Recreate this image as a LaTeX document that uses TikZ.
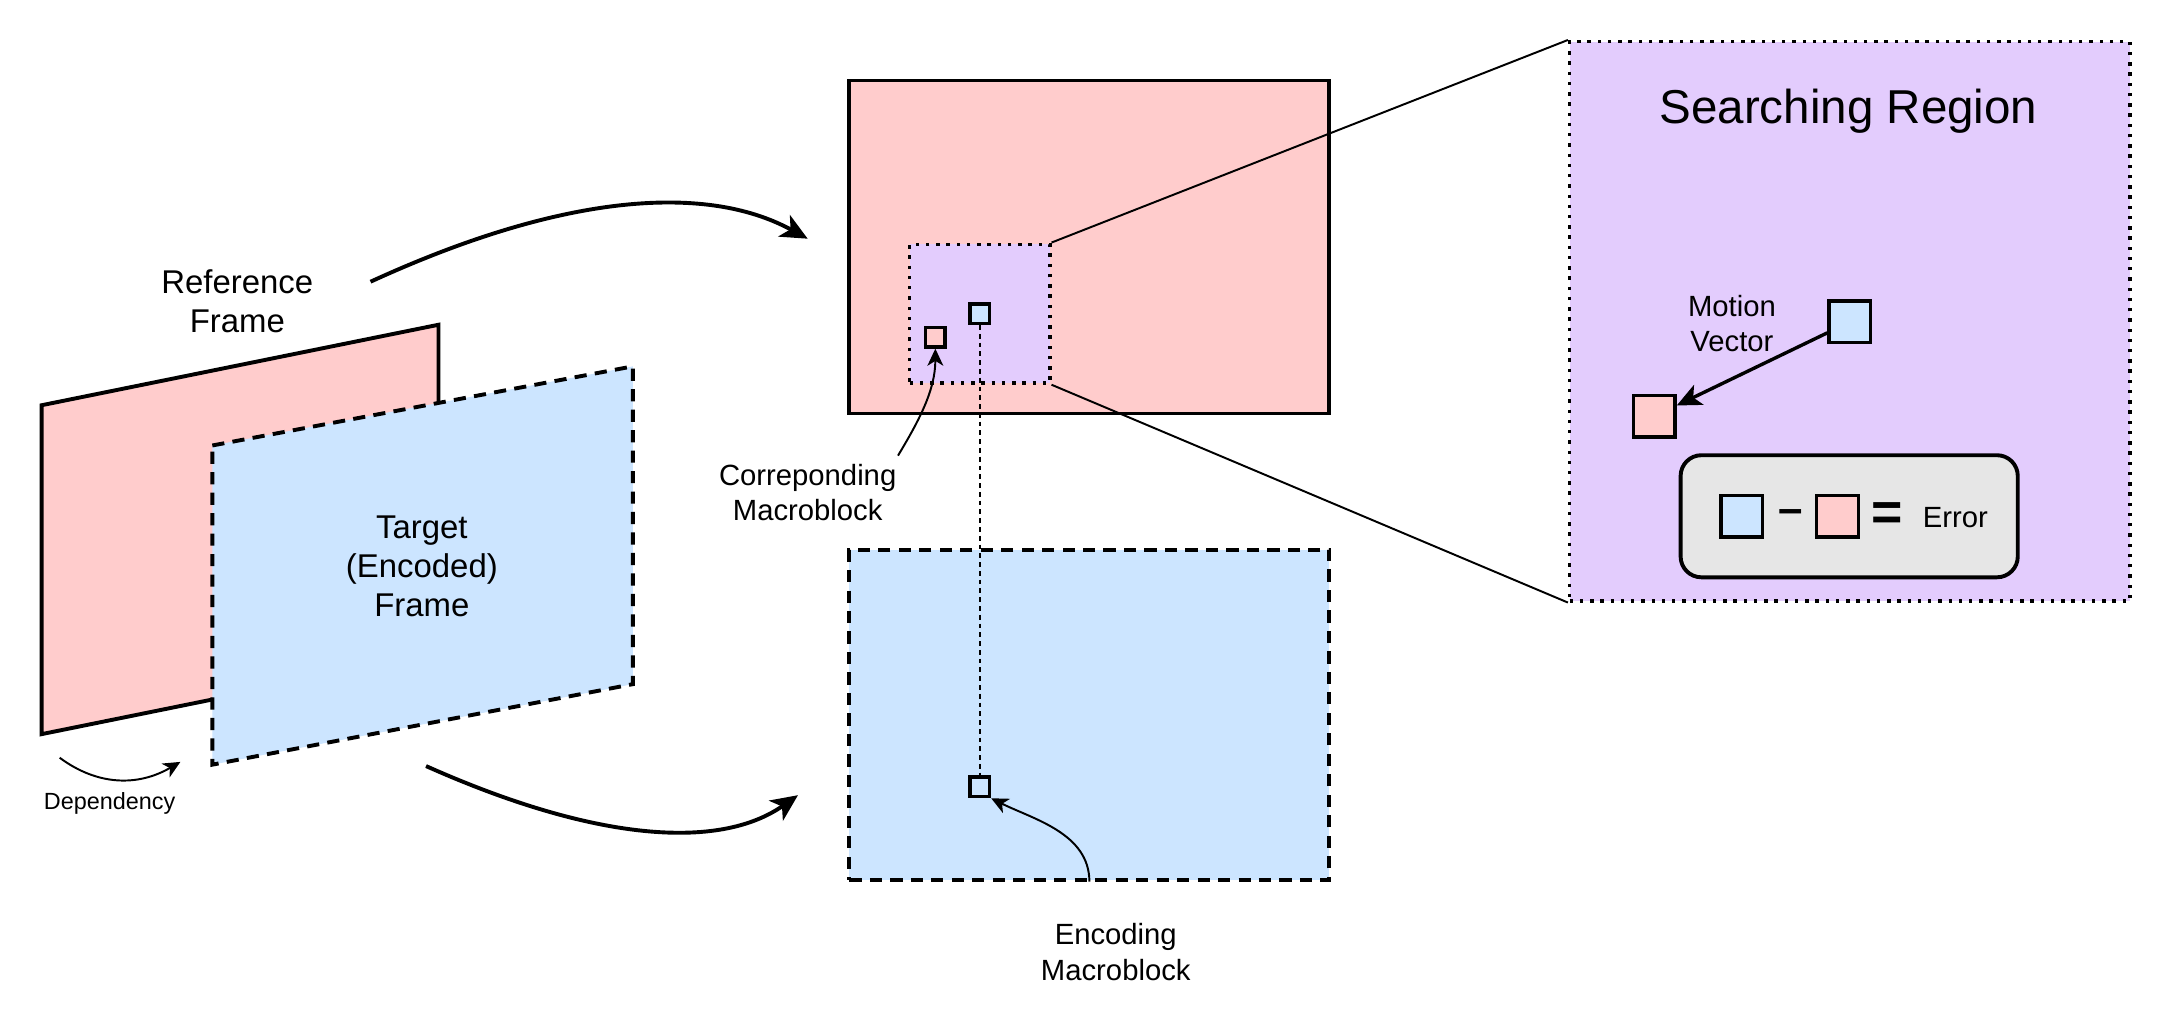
\documentclass[tikz,border=0pt]{standalone}
\usepackage{fontspec}
\setmainfont{Liberation Sans}
\usetikzlibrary{arrows.meta,positioning}

\definecolor{refred}{HTML}{FFCCCC}
\definecolor{tgtblue}{HTML}{CCE5FF}
\definecolor{srchpurple}{HTML}{E3CCFD}
\definecolor{boxgrey}{HTML}{E6E6E6}

\tikzset{
  frameline/.style={line width=1.6pt, line join=miter},
  dashframe/.style={line width=1.6pt, dash pattern=on 5pt off 3.4pt},
  dotframe/.style={line width=1.4pt, dash pattern=on 1.4pt off 2.8pt},
  block/.style={draw, line width=1.4pt, minimum size=0.28cm, inner sep=0pt},
  bigblock/.style={draw, line width=1.4pt, minimum size=0.6cm, inner sep=0pt},
  txt/.style={font=\fontsize{12}{14.5}\selectfont, align=center},
  bigtxt/.style={font=\fontsize{13.5}{16}\selectfont, align=center},
  bigarrow/.style={line width=1.6pt, -{Stealth[length=11pt,width=10pt,inset=3pt]}},
  smallarrow/.style={line width=0.8pt, -{Stealth[length=7pt,width=6.5pt,inset=2pt]}},
}

\begin{document}
\begin{tikzpicture}[x=0.02cm, y=-0.02cm]
  \useasboundingbox (0,0) rectangle (1568,738);

  % the two frames, side view
  \draw[frameline, fill=refred] (30,292) -- (316,234) -- (316,471) -- (30,529) -- cycle;
  \draw[dashframe, fill=tgtblue] (153,321) -- (456,264) -- (456,493) -- (153,551) -- cycle;
  \node[bigtxt] (reftxt) at (171,217) {Reference\\Frame};
  \node[bigtxt] (tgttxt) at (304,408) {Target\\(Encoded)\\Frame};
  \node[txt, font=\fontsize{9.6}{11}\selectfont] (dep) at (79,579) {Dependency};
  \coordinate (deptail) at (43,546);
  \coordinate (dephead) at (130,549);
  \draw[smallarrow] (deptail) .. controls (70,566) and (99,567) .. (dephead);

  \coordinate (reftail) at (267,203);
  \coordinate (refhead) at (582,172);
  \coordinate (tgttail) at (307,552);
  \coordinate (tgthead) at (575,573);
  \draw[bigarrow] (reftail) .. controls (402,141) and (507,131) .. (refhead);
  \draw[bigarrow] (tgttail) .. controls (428,606) and (518,613) .. (tgthead);

  % reference frame with searching region
  \node[draw, frameline, fill=refred, minimum width=6.92cm, minimum height=4.8cm] (refbox) at (785,178) {};
  \node[draw, dotframe, fill=srchpurple, minimum width=2.02cm, minimum height=2cm] (srch) at (706,226) {};
  \node[block, fill=tgtblue] (cur) at (706,226) {};
  \node[block, fill=refred] (match) at (674,243) {};

  % target frame
  \node[draw, dashframe, fill=tgtblue, minimum width=6.92cm, minimum height=4.76cm] (tgtbox) at (785,515) {};
  \node[block, fill=tgtblue] (enc) at (706,567) {};
  \draw[line width=0.6pt, dash pattern=on 2pt off 1.6pt] (cur.south) -- (enc.north);

  \node[txt] (corrtxt) at (582,355) {Correponding\\Macroblock};
  \draw[smallarrow] ([xshift=-0.1cm]corrtxt.north east) .. controls +(15,-25) and +(0,30) .. (match.south);
  \node[txt] (enctxt) at (804,686) {Encoding\\Macroblock};
  \draw[smallarrow] ([xshift=-0.38cm,yshift=0.48cm]enctxt.north) .. controls +(0,-35) and +(30,15) .. (enc.south east);

  % zoomed searching region
  \node[draw, dotframe, fill=srchpurple, minimum width=8.08cm, minimum height=8.06cm] (zoombox) at (1333,231.5) {};
  \draw[line width=0.8pt] (srch.north east) -- (zoombox.north west);
  \draw[line width=0.8pt] (srch.south east) -- (zoombox.south west);
  \node[font=\fontsize{19.5}{23}\selectfont] (title) at (1332,80) {Searching Region};

  \node[bigblock, fill=tgtblue] (mvcur) at (1333,232) {};
  \node[bigblock, fill=refred] (mvmatch) at (1192,300) {};
  \draw[line width=1.4pt, -{Stealth[length=10pt,width=9pt,inset=2.5pt]}] (mvcur) -- (mvmatch);
  \node[txt] (mvtxt) at (1248,233) {Motion\\Vector};

  \node[draw, line width=1.6pt, fill=boxgrey, rounded corners=0.3cm, minimum width=4.86cm, minimum height=1.76cm] (errbox) at (1332.5,372) {};
  \node[bigblock, fill=tgtblue] (errcur) at (1255,372) {};
  \node[font=\fontsize{18}{18}\selectfont\bfseries] (minus) at (1290,372) {–};
  \node[bigblock, fill=refred] (errmatch) at (1324,372) {};
  \node[font=\fontsize{22}{22}\selectfont\bfseries] (equals) at (1360,372) {=};
  \node[txt] (errtxt) at (1409,373) {Error};
\end{tikzpicture}
\end{document}
